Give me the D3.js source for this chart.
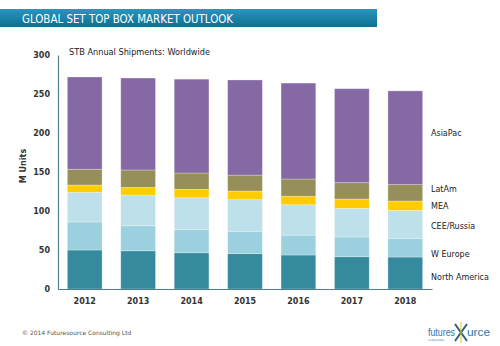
<!DOCTYPE html>
<html>
<head>
<meta charset="utf-8">
<script src="https://cdn.jsdelivr.net/npm/d3@7"></script>
<style>
  body { margin: 0; background: #fff; }
  svg text { font-family: "DejaVu Sans", Verdana, sans-serif; }
</style>
</head>
<body>
<div id="chart"></div>
<script>
// Data (M units, stacked from bottom)
var years = ["2012", "2013", "2014", "2015", "2016", "2017", "2018"];
var northAmerica = [50, 49, 46.5, 45.3, 43.6, 41.4, 41];
var wEurope = [36, 32, 29.5, 28.7, 25.4, 25.3, 24];
var ceeRussia = [38, 39.5, 41, 40.5, 39, 36.7, 35.8];
var mea = [9.3, 9.8, 10.8, 11.1, 11, 12, 12];
var latAm = [20.2, 22.3, 20.9, 20.4, 22, 20.9, 21];
var asiaPac = [118.3, 117.9, 120.3, 122, 123, 120.5, 120.2];
var regions = ["North America", "W Europe", "CEE/Russia", "MEA", "LatAm", "AsiaPac"];
var yTicks = [0, 50, 100, 150, 200, 250, 300];

function drawChart() {
  var width = 500, height = 346;
  var colors = ["#368a9e", "#9bd0df", "#bde0ea", "#ffcc00", "#978f59", "#8569a5"];
  var series = [northAmerica, wEurope, ceeRussia, mea, latAm, asiaPac];

  var svg = d3.select("#chart").append("svg")
    .attr("width", width).attr("height", height);

  // Header bar
  var defs = svg.append("defs");
  var grad = defs.append("linearGradient").attr("id", "hdr")
    .attr("x1", 0).attr("y1", 0).attr("x2", 0).attr("y2", 1);
  grad.append("stop").attr("offset", "0%").attr("stop-color", "#2a95bf");
  grad.append("stop").attr("offset", "100%").attr("stop-color", "#0f6f93");
  svg.append("rect").attr("x", 0).attr("y", 9).attr("width", 377).attr("height", 18)
    .attr("fill", "url(#hdr)");
  svg.append("text").attr("x", 22).attr("y", 23)
    .attr("fill", "#fff").style("font-size", "12.5px")
    .attr("textLength", 211).attr("lengthAdjust", "spacingAndGlyphs")
    .text("GLOBAL SET TOP BOX MARKET OUTLOOK");

  // Table for stacking
  var table = years.map(function (y, i) {
    var row = { year: y };
    regions.forEach(function (r, k) { row[r] = series[k][i]; });
    return row;
  });
  var stacked = d3.stack().keys(regions)(table);

  var x = d3.scaleBand().domain(years).range([58, 432])
    .paddingInner(0.35).paddingOuter(0.175);
  var y = d3.scaleLinear().domain([0, 300]).range([289, 55]);

  var layers = svg.append("g").selectAll("g").data(stacked).enter().append("g")
    .attr("fill", function (d, i) { return colors[i]; });
  layers.selectAll("rect").data(function (d) { return d; }).enter().append("rect")
    .attr("x", function (d) { return x(d.data.year); })
    .attr("width", x.bandwidth())
    .attr("y", function (d) { return y(d[1]); })
    .attr("height", function (d) { return y(d[0]) - y(d[1]); })
    .attr("stroke", "#ffffff").attr("stroke-opacity", 0.35).attr("stroke-width", 0.8);

  // Axes
  var yAxis = d3.axisLeft(y).tickValues(yTicks).tickSize(0).tickPadding(8);
  var gy = svg.append("g").attr("transform", "translate(58,0)").call(yAxis);
  gy.select(".domain").attr("stroke", "#4f7f8c").attr("stroke-width", 1.2);
  gy.selectAll("text").style("font-size", "8px").style("font-weight", "bold")
    .attr("fill", "#333").style("font-family", "DejaVu Sans, sans-serif");

  var xAxis = d3.axisBottom(x).tickSize(0).tickPadding(9);
  var gx = svg.append("g").attr("transform", "translate(0,289)").call(xAxis);
  gx.select(".domain").attr("stroke", "#4f7f8c").attr("stroke-width", 1.2);
  gx.selectAll("text").style("font-size", "8px").style("font-weight", "bold")
    .attr("fill", "#333").style("font-family", "DejaVu Sans, sans-serif");

  // Y-axis label
  svg.append("text").attr("transform", "translate(26,166) rotate(-90)")
    .attr("text-anchor", "middle").style("font-size", "8px").style("font-weight", "bold")
    .attr("fill", "#333").text("M Units");

  // Subtitle
  svg.append("text").attr("x", 69).attr("y", 55)
    .style("font-size", "8.2px").attr("fill", "#222")
    .text("STB Annual Shipments: Worldwide");

  // Series labels at right
  var labelY = { "AsiaPac": 135.5, "LatAm": 192, "MEA": 208.5, "CEE/Russia": 228.5,
    "W Europe": 257, "North America": 279.5 };
  svg.append("g").selectAll("text").data(regions).enter().append("text")
    .attr("x", 431).attr("y", function (d) { return labelY[d]; })
    .style("font-size", "8px").attr("fill", "#222")
    .text(function (d) { return d; });

  // Footer
  svg.append("text").attr("x", 22).attr("y", 335)
    .style("font-size", "6px").attr("fill", "#555")
    .text("\u00a9 2014 Futuresource Consulting Ltd");

  // Logo
  var logo = svg.append("g").attr("transform", "translate(428,336)");
  logo.append("line").attr("x1", 27).attr("y1", -12).attr("x2", 39).attr("y2", 5)
    .attr("stroke", "#2b5f8a").attr("stroke-width", 2);
  logo.append("line").attr("x1", 39).attr("y1", -12).attr("x2", 27).attr("y2", 5)
    .attr("stroke", "#2b5f8a").attr("stroke-width", 2);
  logo.append("line").attr("x1", 33).attr("y1", -14).attr("x2", 33).attr("y2", 7)
    .attr("stroke", "#f2c500").attr("stroke-width", 1);
  logo.append("text").attr("x", 0).attr("y", 0)
    .style("font-size", "11px").style("font-family", "Liberation Sans, Arial, sans-serif")
    .attr("textLength", 27).attr("lengthAdjust", "spacingAndGlyphs")
    .attr("fill", "#1f74b4").text("futures");
  logo.append("text").attr("x", 39).attr("y", 0)
    .style("font-size", "11px").style("font-family", "Liberation Sans, Arial, sans-serif")
    .attr("textLength", 23).attr("lengthAdjust", "spacingAndGlyphs")
    .attr("fill", "#1f74b4").text("urce");
  logo.append("text").attr("x", 0).attr("y", 5)
    .style("font-size", "2.5px").attr("fill", "#1f74b4").text("CONSULTING");
}

drawChart();
</script>
</body>
</html>
